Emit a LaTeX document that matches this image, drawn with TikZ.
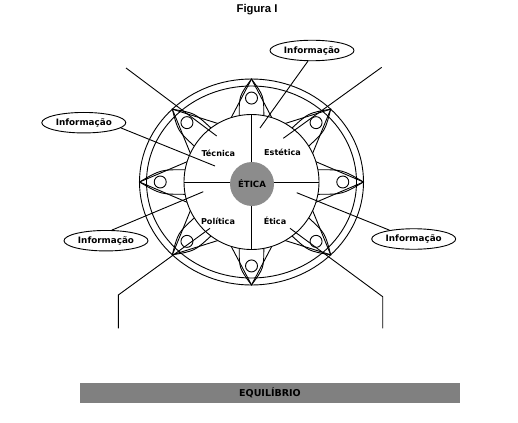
\documentclass[tikz,border=0pt]{standalone}
\usepackage{fontspec}
\usetikzlibrary{shapes.geometric}
\newfontfamily\labfont{DejaVu Sans}
\newfontfamily\titlefont{Liberation Sans}
\definecolor{circgray}{RGB}{140,140,140}
\definecolor{bargray}{RGB}{128,128,128}
\begin{document}
\begin{tikzpicture}[x=1pt,y=-1pt,line width=0.9pt,
  lab/.style={font=\labfont\bfseries\fontsize{8.1}{9}\selectfont, inner sep=0pt},
  info/.style={draw, ellipse, fill=white, minimum width=84, minimum height=20.5, inner sep=0pt,
    font=\labfont\bfseries\fontsize{8.8}{10}\selectfont},
  conn/.style={line width=0.9pt}]
\path[use as bounding box] (0,0) rectangle (518,422);
\def\cx{251.5}
\def\cy{182}
% title
\node[font=\titlefont\bfseries\fontsize{11.3}{13}\selectfont, inner sep=0pt] (title) at (257,10) {Figura I};
% rings
\draw (\cx,\cy) ellipse [x radius=112, y radius=103];
\draw (\cx,\cy) ellipse [x radius=105, y radius=96];
% spikes
\foreach \a in {90,45,0,-45,-90,-135,180,135} {
  \pgfmathsetmacro\tx{\cx+112*cos(\a)}
  \pgfmathsetmacro\ty{\cy-103*sin(\a)}
  \pgfmathsetmacro\pa{atan2(103*sin(\a),112*cos(\a))}
  \pgfmathsetmacro\tr{sqrt((112*cos(\a))^2+(103*sin(\a))^2)}
  \pgfmathsetmacro\k{0.55*(\tr-67.2)}
  % straight edges
  \draw (\tx,\ty) -- ({\cx+67.5*cos(\pa+17.5)},{\cy-67.5*sin(\pa+17.5)});
  \draw (\tx,\ty) -- ({\cx+67.5*cos(\pa-17.5)},{\cy-67.5*sin(\pa-17.5)});
  % lancet arch
  \draw ({\cx+67.5*cos(\pa+10.5)},{\cy-67.5*sin(\pa+10.5)})
     .. controls ({\cx+67.5*cos(\pa+10.5)+\k*cos(\pa)},{\cy-67.5*sin(\pa+10.5)-\k*sin(\pa)}) .. (\tx,\ty)
     .. controls ({\cx+67.5*cos(\pa-10.5)+\k*cos(\pa)},{\cy-67.5*sin(\pa-10.5)-\k*sin(\pa)}) .. ({\cx+67.5*cos(\pa-10.5)},{\cy-67.5*sin(\pa-10.5)});
  % small circle
  \draw ({\cx+0.815*112*cos(\a)},{\cy-0.815*103*sin(\a)}) circle [radius=6];
}
% inner circle
\draw[fill=white] (\cx,\cy) circle [radius=67.5];
\draw (\cx,\cy-67.5) -- (\cx,\cy+67.5);
\draw (\cx-67.5,\cy) -- (\cx+67.5,\cy);
\node[circle, fill=circgray, minimum size=44, inner sep=0pt,
  font=\labfont\bfseries\fontsize{8.6}{10}\selectfont] (etica) at (252,184) {ÉTICA};
% quadrant labels
\node[lab] (tec) at (218.3,153.3) {Técnica};
\node[lab] (est) at (282.5,152.7) {Estética};
\node[lab] (pol) at (218,221.3) {Política};
\node[lab] (eti) at (275,221.3) {Ética};
% information ellipses
\node[info] (i1) at (312,50.5) {Informação};
\node[info] (i2) at (83.8,122.7) {Informação};
\node[info] (i3) at (106,240.7) {Informação};
\node[info] (i4) at (413.7,239) {Informação};
\coordinate (p1) at (260,128);
\coordinate (p2) at (215,166);
\coordinate (p3) at (203.3,191.7);
\coordinate (p4) at (296.7,192.7);
\draw[conn] (i1.-111) -- (p1);
\draw[conn] (i2.-8) -- (p2);
\draw[conn] (i3.61) -- (p3);
\draw[conn] (i4.160) -- (p4);
% corner lines
\coordinate (ul0) at (126,68);
\coordinate (ul1) at (216.7,136);
\coordinate (ur0) at (381.7,67.3);
\coordinate (ur1) at (283.3,138.3);
\coordinate (ll0) at (118.3,328.3);
\coordinate (ll1) at (118.3,295);
\coordinate (ll2) at (210,228.3);
\coordinate (lr0) at (382.7,328.3);
\coordinate (lr1) at (382.7,296.7);
\coordinate (lr2) at (290,228.3);
\draw[conn] (ul0) -- (ul1);
\draw[conn] (ur0) -- (ur1);
\draw[conn] (ll0) -- (ll1) -- (ll2);
\draw[conn] (lr0) -- (lr1) -- (lr2);
% equilibrium bar
\node[fill=bargray, minimum width=380, minimum height=20.6, inner sep=0pt,
  font=\labfont\bfseries\fontsize{9.5}{11}\selectfont] (eq) at (270,393) {EQUILÍBRIO};
\end{tikzpicture}
\end{document}
